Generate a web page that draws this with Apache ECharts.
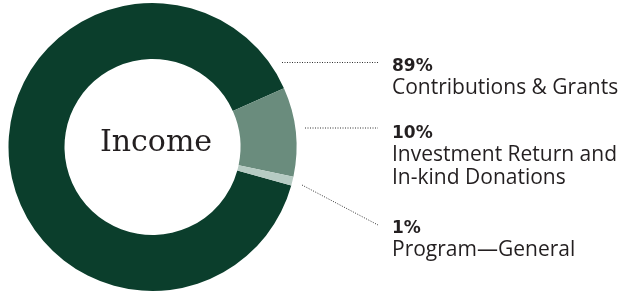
<!DOCTYPE html>
<html>
<head>
<meta charset="utf-8">
<script src="https://cdn.jsdelivr.net/npm/echarts@6/dist/echarts.min.js"></script>
<style>
  html, body { margin: 0; padding: 0; background: #fff; }
  #main { width: 626px; height: 294px; }
</style>
</head>
<body>
<div id="main"></div>
<script>
// data
var categories = ['Contributions & Grants', 'Investment Return and\nIn-kind Donations', 'Program\u2014General'];
var values = [89, 10, 1];
var percentLabels = ['89%', '10%', '1%'];
var colors = ['#0b3e2c', '#6a8c7d', '#b6cbc3'];

// where each label block and its dotted leader go (px)
var labelTops = [57, 124, 219];
var leaderPoints = [
	[[282, 62.5], [330, 62.5], [378, 62.5]],
	[[305, 128], [340, 128], [378, 128]],
	[[302, 185], [340, 205], [378, 225]]
];

var chart = echarts.init(document.getElementById('main'));

var pieData = [];
for (var i = 0; i < values.length; i++) {
	pieData.push({
		value: values[i],
		name: categories[i],
		itemStyle: { color: colors[i] }
	});
}

chart.setOption({
	animation: false,
	graphic: [{
		type: 'text',
		style: {
			x: 156,
			y: 143,
			text: 'Income',
			font: '30px "DejaVu Serif"',
			align: 'center',
			verticalAlign: 'middle',
			fill: '#231f20'
		}
	}],
	series: [{
		type: 'pie',
		center: [152.5, 147],
		radius: [88, 144],
		startAngle: 344.5,
		clockwise: true,
		avoidLabelOverlap: false,
		data: pieData,
		emphasis: { disabled: true },
		label: {
			show: true,
			position: 'outside',
			overflow: 'none',
			formatter: function (p) {
				return '{p|' + percentLabels[p.dataIndex] + '}\n{n|' + p.name.split('\n').join('}\n{n|') + '}';
			},
			rich: {
				p: { fontFamily: 'DejaVu Sans', fontWeight: 'bold', fontSize: 17, lineHeight: 19, color: '#231f20' },
				n: { fontFamily: 'Open Sans', fontSize: 21, lineHeight: 23.5, color: '#231f20' }
			}
		},
		labelLine: {
			show: true,
			lineStyle: { color: '#333', width: 1, type: [1, 1.5] }
		},
		labelLayout: function (params) {
			var i = params.dataIndex;
			return {
				x: 392,
				y: labelTops[i],
				align: 'left',
				verticalAlign: 'top',
				labelLinePoints: leaderPoints[i]
			};
		}
	}]
});
</script>
</body>
</html>
